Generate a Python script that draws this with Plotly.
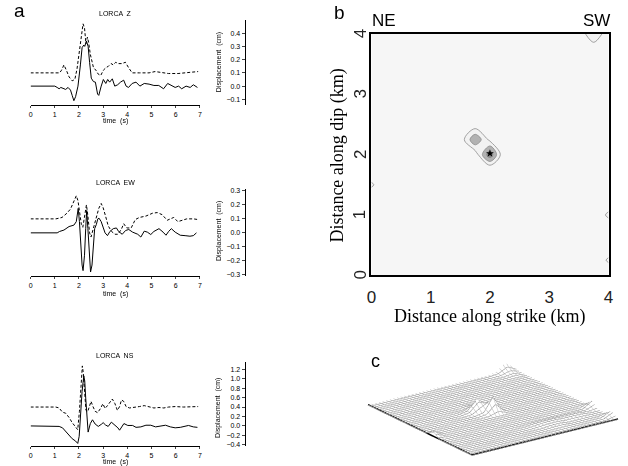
import numpy as np
import plotly.graph_objects as go

W, H = 628, 466


def fx(x):
    return x / W


def fy(y):
    return 1 - y / H


# ---------------- (a) displacement seismograms, station LORCA ----------------
# observed (solid) and synthetic (dashed) traces, time in s, displacement in cm
z_obs_t = [0.0, 1.0, 1.1, 1.18, 1.25, 1.35, 1.45, 1.55, 1.65, 1.72, 1.79, 1.86, 1.96, 2.06, 2.13,
           2.2, 2.24, 2.31, 2.38, 2.44, 2.51, 2.6, 2.68, 2.77, 2.82, 2.92, 3.01, 3.11, 3.19, 3.27,
           3.38, 3.48, 3.6, 3.72, 3.85, 3.95, 4.05, 4.2, 4.36, 4.52, 4.7, 4.9, 5.1, 5.3, 5.5,
           5.67, 5.85, 5.98, 6.12, 6.25, 6.43, 6.6, 6.73, 6.9]
z_obs_v = [0.0, 0.0, -0.01, -0.02, -0.01, -0.015, -0.025, -0.01, -0.03, -0.07, -0.11, -0.08, 0.0,
           0.16, 0.29, 0.31, 0.30, 0.34, 0.30, 0.18, 0.06, 0.034, 0.03, -0.06, -0.07, 0.0, 0.05,
           0.02, 0.05, 0.03, 0.055, 0.0, 0.01, 0.03, 0.045, 0.0, -0.01, 0.02, 0.03, 0.0, 0.02,
           0.015, 0.005, 0.005, -0.02, 0.02, 0.0, -0.01, 0.0, -0.02, 0.0, -0.01, 0.01, -0.01]
z_syn_t = [0.0, 1.2, 1.28, 1.38, 1.48, 1.59, 1.72, 1.83, 1.92, 2.02, 2.1, 2.17, 2.23, 2.29, 2.35,
           2.4, 2.47, 2.54, 2.6, 2.7, 2.8, 2.9, 3.01, 3.12, 3.22, 3.33, 3.42, 3.52, 3.63, 3.78,
           3.92, 4.05, 4.2, 4.5, 4.9, 5.15, 5.45, 5.7, 6.1, 6.5, 6.93]
z_syn_v = [0.1, 0.1, 0.12, 0.16, 0.12, 0.07, 0.04, 0.05, 0.13, 0.26, 0.38, 0.47, 0.44, 0.32, 0.37,
           0.33, 0.24, 0.18, 0.14, 0.12, 0.09, 0.08, 0.12, 0.14, 0.15, 0.17, 0.16, 0.18, 0.17,
           0.17, 0.18, 0.14, 0.1, 0.1, 0.1, 0.11, 0.1, 0.095, 0.095, 0.1, 0.11]

ew_obs_t = [0.0, 1.1, 1.2, 1.38, 1.59, 1.79, 1.89, 1.97, 2.02, 2.08, 2.13, 2.17, 2.23, 2.28, 2.32,
            2.37, 2.43, 2.48, 2.54, 2.59, 2.65, 2.72, 2.78, 2.83, 2.92, 3.01, 3.08, 3.18, 3.28,
            3.42, 3.55, 3.64, 3.79, 3.93, 4.06, 4.22, 4.43, 4.56, 4.7, 4.83, 4.97, 5.1, 5.31,
            5.48, 5.6, 5.71, 5.82, 5.98, 6.19, 6.39, 6.59, 6.73, 6.86]
ew_obs_v = [0.0, 0.0, 0.01, 0.02, 0.045, 0.055, 0.08, 0.175, 0.08, -0.11, -0.23, -0.27, -0.16,
            0.03, 0.16, 0.03, -0.16, -0.28, -0.23, -0.085, 0.03, 0.06, 0.1, 0.105, 0.08, 0.035,
            0.0, -0.02, 0.01, 0.03, 0.035, 0.01, -0.01, 0.017, 0.024, 0.005, -0.01, -0.03, 0.012,
            0.005, -0.012, 0.01, 0.03, 0.005, -0.017, 0.01, 0.03, 0.005, -0.017, -0.02, -0.024,
            -0.02, 0.0]
ew_syn_t = [0.0, 1.05, 1.3, 1.5, 1.65, 1.79, 1.89, 1.96, 2.02, 2.1, 2.16, 2.24, 2.31, 2.37, 2.44,
            2.5, 2.58, 2.68, 2.82, 2.92, 3.0, 3.1, 3.21, 3.35, 3.49, 3.61, 3.75, 3.85, 3.98,
            4.16, 4.33, 4.5, 4.77, 5.04, 5.24, 5.44, 5.65, 5.78, 5.92, 6.09, 6.26, 6.46, 6.73,
            6.93]
ew_syn_v = [0.1, 0.1, 0.11, 0.14, 0.17, 0.22, 0.265, 0.23, 0.15, 0.06, 0.04, 0.12, 0.2, 0.12,
            0.0, -0.03, 0.02, 0.08, 0.175, 0.21, 0.18, 0.12, 0.05, 0.01, -0.01, -0.01, 0.024,
            0.065, 0.035, 0.035, 0.095, 0.11, 0.12, 0.14, 0.145, 0.13, 0.09, 0.1, 0.11, 0.08,
            0.09, 0.1, 0.1, 0.095]

ns_obs_t = [0.0, 1.0, 1.18, 1.32, 1.45, 1.59, 1.72, 1.86, 1.95, 2.01, 2.06, 2.13, 2.2, 2.24, 2.28,
            2.33, 2.38, 2.47, 2.56, 2.67, 2.8, 2.94, 3.0, 3.1, 3.21, 3.34, 3.48, 3.61, 3.68, 3.78,
            3.86, 4.02, 4.22, 4.36, 4.56, 4.77, 4.97, 5.17, 5.38, 5.58, 5.78, 5.98, 6.19, 6.37,
            6.53, 6.73, 6.9]
ns_obs_v = [0.0, 0.0, -0.01, -0.04, -0.11, -0.18, -0.27, -0.32, -0.37, -0.22, 0.24, 0.73, 1.06,
            0.95, 0.59, 0.1, -0.13, 0.05, 0.13, 0.04, -0.01, 0.04, 0.07, 0.02, -0.01, 0.08, 0.02,
            -0.04, -0.09, 0.0, 0.05, 0.01, 0.01, -0.03, -0.02, 0.015, 0.015, -0.02, -0.01, 0.015,
            -0.02, -0.04, -0.03, -0.01, 0.01, -0.02, -0.03]
ns_syn_t = [0.0, 1.04, 1.18, 1.32, 1.45, 1.59, 1.72, 1.86, 1.95, 2.02, 2.08, 2.14, 2.18, 2.23,
            2.29, 2.36, 2.44, 2.5, 2.58, 2.67, 2.77, 2.88, 2.99, 3.08, 3.18, 3.29, 3.38, 3.49,
            3.59, 3.68, 3.76, 3.85, 3.95, 4.09, 4.29, 4.5, 4.7, 4.9, 5.1, 5.31, 5.51, 5.71, 5.98,
            6.32, 6.6, 6.93]
ns_syn_v = [0.4, 0.4, 0.38, 0.29, 0.27, 0.18, 0.07, -0.03, -0.08, 0.31, 0.86, 1.27, 1.12, 0.66,
            0.33, 0.3, 0.46, 0.52, 0.41, 0.31, 0.28, 0.36, 0.47, 0.37, 0.43, 0.52, 0.57, 0.47,
            0.33, 0.41, 0.55, 0.52, 0.41, 0.38, 0.39, 0.41, 0.43, 0.4, 0.38, 0.39, 0.38, 0.4,
            0.41, 0.4, 0.4, 0.41]

z_ticks = [-0.1, 0.0, 0.1, 0.2, 0.3, 0.4]
ew_ticks = [-0.3, -0.2, -0.1, 0.0, 0.1, 0.2, 0.3]
ns_ticks = [-0.4, -0.2, 0.0, 0.2, 0.4, 0.6, 0.8, 1.0, 1.2]
time_ticks = [0, 1, 2, 3, 4, 5, 6, 7]
km_ticks = [0, 1, 2, 3, 4]

# ---------------- (b, c) slip on the fault plane ----------------
# 0.25 km node grid along strike (x) and dip (y); only non-zero nodes are listed
grid_km = [0.0, 0.25, 0.5, 0.75, 1.0, 1.25, 1.5, 1.75, 2.0, 2.25, 2.5, 2.75, 3.0, 3.25, 3.5,
           3.75, 4.0]
node_strike = [8, 7, 8, 7, 6, 7, 15, 14, 16, 15, 0, 16, 16, 9, 10, 11, 12, 13, 14, 10, 11]
node_dip = [8, 9, 9, 8, 9, 10, 16, 16, 16, 15, 6, 4, 1, 3, 3, 3, 3, 3, 3, 2, 2]
node_slip = [1.0, 0.78, 0.22, 0.12, 0.12, 0.12, 0.54, 0.1, 0.1, 0.1, 0.36, 0.38, 0.36,
             0.08, 0.12, 0.12, 0.1, 0.1, 0.08, 0.06, 0.07]
hypo_strike = [2.0]
hypo_dip = [2.02]
slip_levels = [0.3, 0.55, 0.8]

n = len(grid_km)
slip = np.zeros((n, n))
for i, j, s in zip(node_strike, node_dip, node_slip):
    slip[j, i] = s

FONT = "Liberation Sans"
fig = go.Figure()

panels = [
    ("x", "y", z_obs_t, z_obs_v, z_syn_t, z_syn_v),
    ("x2", "y2", ew_obs_t, ew_obs_v, ew_syn_t, ew_syn_v),
    ("x3", "y3", ns_obs_t, ns_obs_v, ns_syn_t, ns_syn_v),
]
for xa, ya, to, vo, ts, vs in panels:
    fig.add_trace(go.Scatter(x=ts, y=vs, xaxis=xa, yaxis=ya, mode="lines",
                             line=dict(color="black", width=1, dash="3px,2px"),
                             showlegend=False, hoverinfo="skip"))
    fig.add_trace(go.Scatter(x=to, y=vo, xaxis=xa, yaxis=ya, mode="lines",
                             line=dict(color="black", width=1),
                             showlegend=False, hoverinfo="skip"))

fig.add_trace(go.Contour(
    x=grid_km, y=grid_km, z=slip, xaxis="x4", yaxis="y4",
    autocontour=False,
    contours=dict(start=slip_levels[0], end=slip_levels[-1],
                  size=slip_levels[1] - slip_levels[0], coloring="fill"),
    colorscale=[[0, "#f6f6f6"], [1 / 3, "#f2f2f2"], [2 / 3, "#b2b2b2"], [1, "#8a8a8a"]],
    line=dict(color="#8c8c8c", width=0.8, smoothing=1.0),
    showscale=False, hoverinfo="skip"))
fig.add_trace(go.Scatter(x=hypo_strike, y=hypo_dip, xaxis="x4", yaxis="y4", mode="markers",
                         marker=dict(symbol="star", size=6, color="black"),
                         showlegend=False, hoverinfo="skip"))

# wire-mesh view of the same slip grid
fig.add_trace(go.Surface(
    x=grid_km, y=grid_km, z=slip, scene="scene",
    colorscale=[[0, "white"], [1, "white"]], showscale=False,
    lighting=dict(ambient=1, diffuse=0, specular=0, fresnel=0, roughness=1),
    contours=dict(
        x=dict(show=True, start=0, end=4, size=0.1, color="#bdbdbd", width=1, highlight=False),
        y=dict(show=True, start=0, end=4, size=0.1, color="#8a8a8a", width=1, highlight=False),
        z=dict(show=False, highlight=False)),
    hoverinfo="skip"))
# front edges of the fault plane, lifted a hair above the mesh so they stay visible
edge_x = [0.0, 0.0, 4.0]
edge_y = [4.0, 0.0, 0.0]
edge_z = [0.02, 0.02, 0.02]
fig.add_trace(go.Scatter3d(x=edge_x, y=edge_y, z=edge_z, mode="lines", scene="scene",
                           line=dict(color="black", width=3), showlegend=False,
                           hoverinfo="skip"))


def time_axis(anchor):
    return dict(range=[0, 7], tickvals=time_ticks, ticks="outside", ticklen=2, tickwidth=1,
                showline=True, linecolor="black", linewidth=1, showgrid=False, zeroline=False,
                anchor=anchor, domain=[fx(26), fx(198)],
                tickfont=dict(family=FONT, size=7, color="black"))


def disp_axis(top, bottom, rng, ticks):
    return dict(domain=[fy(bottom), fy(top)], range=rng, anchor="free", position=fx(243.5),
                side="left", tickvals=ticks, tickformat=".1f", ticks="outside", ticklen=3,
                showline=True, linecolor="black", linewidth=1, showgrid=False, zeroline=False,
                tickfont=dict(family=FONT, size=7, color="black"))


ann = []


def text(x, y, s, size, family=FONT, angle=0, yref="paper"):
    ann.append(dict(x=fx(x), y=fy(y) if yref == "paper" else y, xref="paper", yref=yref,
                    text=s, showarrow=False, textangle=angle, xanchor="center",
                    yanchor="middle", font=dict(family=family, size=size, color="black")))


text(15, 10, "a", 19)
text(340, 12, "b", 19)
text(377, 362, "c", 18)
for title, ty, tl, dy in [("LORCA  Z", 13, 121, 62), ("LORCA  EW", 183, 295, 232),
                          ("LORCA  NS", 357, 464, 410)]:
    text(112, ty, title, 7)
    text(112, tl, "time  (s)", 7)
    text(217, dy, "Displacement  (cm)", 7, angle=-90)
text(385, 20, "NE", 17)
text(601, 20, "SW", 17)
text(492, 318, "Distance along strike (km)", 18, family="Liberation Serif")
text(338, 156, "Distance along dip (km)", 18, family="Liberation Serif", angle=-90)
# dip tick labels, rotated, placed on the dip axis scale
for v in km_ticks:
    ann.append(dict(x=fx(361), y=v, xref="paper", yref="y4", text=str(v), showarrow=False,
                    textangle=-90, xanchor="center", yanchor="middle",
                    font=dict(family=FONT, size=17, color="#222")))

# view direction: azimuth and elevation of the camera (degrees)
view_az, view_el = -125.5, 20.2
az, el = np.radians(view_az), np.radians(view_el)
eye = 8.0 * np.array([np.cos(az) * np.cos(el), np.sin(az) * np.cos(el), np.sin(el)])
# in orthographic mode the box size sets the zoom
box = 3.12

fig.update_layout(
    width=W, height=H, margin=dict(l=0, r=0, t=0, b=0), autosize=False,
    paper_bgcolor="white", plot_bgcolor="white", showlegend=False,
    xaxis=time_axis("y"), xaxis2=time_axis("y2"), xaxis3=time_axis("y3"),
    yaxis=disp_axis(19, 105, [-0.145, 0.5], z_ticks),
    yaxis2=disp_axis(189, 277, [-0.31, 0.315], ew_ticks),
    yaxis3=disp_axis(363, 448, [-0.427, 1.36], ns_ticks),
    xaxis4=dict(domain=[fx(372.3), fx(613.3)], range=[0, 4], anchor="y4",
                tickvals=km_ticks, ticks="outside", ticklen=5,
                tickcolor="rgba(0,0,0,0)", showline=True, mirror=True, linecolor="black",
                linewidth=2, showgrid=False, zeroline=False,
                tickfont=dict(family=FONT, size=17, color="#222")),
    yaxis4=dict(domain=[fy(276), fy(33.3)], range=[0, 4], anchor="x4",
                tickvals=km_ticks, showticklabels=False, ticks="",
                showline=True, mirror=True, linecolor="black",
                linewidth=2, showgrid=False, zeroline=False),
    scene=dict(
        domain=dict(x=[fx(364), fx(628)], y=[fy(464), fy(348)]),
        xaxis=dict(visible=False, range=[0, 4]),
        yaxis=dict(visible=False, range=[0, 4]),
        zaxis=dict(visible=False, range=[0, 1.0]),
        aspectmode="manual", aspectratio=dict(x=box, y=box, z=0.09 * box),
        camera=dict(eye=dict(x=eye[0], y=eye[1], z=eye[2]), up=dict(x=0, y=0, z=1),
                    center=dict(x=0, y=0, z=0), projection=dict(type="orthographic")),
        bgcolor="white"),
    annotations=ann,
)

fig.write_html("out.html")
